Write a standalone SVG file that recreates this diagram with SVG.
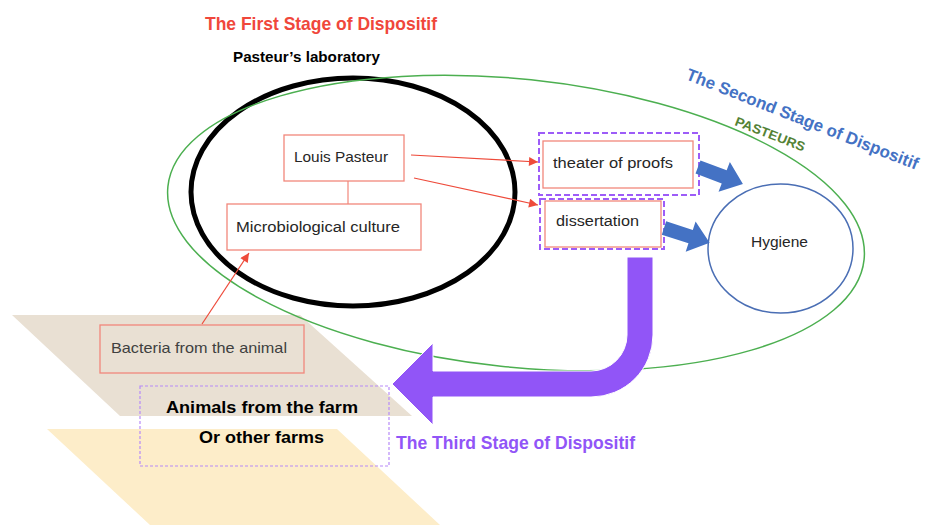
<svg xmlns="http://www.w3.org/2000/svg" width="931" height="525" viewBox="0 0 931 525">
<defs>
<style>
text{font-family:"Liberation Sans",Arial,sans-serif;}
.box{fill:none;stroke:#F2877B;stroke-width:1.3;}
.lbl{font-size:14px;fill:#262626;}
.dash{fill:none;stroke:#9D5CF8;stroke-width:2;stroke-dasharray:6 3;}
.conn{stroke:#EE4B3B;stroke-width:1.2;fill:none;marker-end:url(#ah);}
.blue{fill:#4472C4;}
.bold{font-weight:bold;}
</style>
<marker id="ah" viewBox="0 0 10 10" refX="10" refY="5" markerWidth="11" markerHeight="9" markerUnits="userSpaceOnUse" orient="auto">
<path d="M0,0 L10,5 L0,10 Z" fill="#EE4B3B"/>
</marker>
</defs>
<rect width="931" height="525" fill="#fff"/>

<g id="farm-planes">
<path d="M12,315 L300,315 L412,416 L120,416 Z" fill="#E9E0D3"/>
<path d="M47,429 L337,429 L440,525 L150,525 Z" fill="#FDEDC9"/>
</g>

<g id="lab">
<ellipse cx="353" cy="192" rx="162" ry="114" fill="none" stroke="#000" stroke-width="5"/>
</g>
<g id="pasteurs">
<ellipse cx="516" cy="223" rx="350" ry="144" fill="none" stroke="#4CAF50" stroke-width="1.5" transform="rotate(6 516 223)"/>
</g>

<g id="title-first">
<text x="205" y="30" font-size="19" class="bold" fill="#F0473B" textLength="232" lengthAdjust="spacingAndGlyphs">The First Stage of Dispositif</text>
<text x="233" y="62" font-size="15" class="bold" fill="#000" textLength="147" lengthAdjust="spacingAndGlyphs">Pasteur’s laboratory</text>
</g>
<g id="title-second">
<text x="685" y="79" font-size="17" class="bold" fill="#4472C4" transform="rotate(21.5 685 79)" textLength="248" lengthAdjust="spacingAndGlyphs">The Second Stage of Dispositif</text>
<text x="734" y="125" font-size="13" class="bold" fill="#548235" transform="rotate(21 734 125)" textLength="74" lengthAdjust="spacingAndGlyphs">PASTEURS</text>
</g>

<g id="louis-pasteur">
<rect class="box" x="284" y="135" width="120" height="46"/>
<text class="lbl" x="294" y="162" textLength="94" lengthAdjust="spacingAndGlyphs">Louis Pasteur</text>
</g>
<g id="microbiological-culture">
<rect class="box" x="227" y="204" width="194" height="46"/>
<text class="lbl" x="236" y="232" textLength="164" lengthAdjust="spacingAndGlyphs">Microbiological culture</text>
</g>
<g id="theater-of-proofs">
<rect class="dash" x="539" y="133" width="160" height="62"/>
<rect class="box" x="543" y="141" width="150" height="47"/>
<text class="lbl" x="553" y="168" textLength="120" lengthAdjust="spacingAndGlyphs">theater of proofs</text>
</g>
<g id="dissertation">
<rect class="dash" x="540" y="199" width="124" height="50"/>
<rect class="box" x="545" y="201" width="116" height="46"/>
<text class="lbl" x="556" y="226" textLength="83" lengthAdjust="spacingAndGlyphs">dissertation</text>
</g>
<g id="hygiene">
<ellipse cx="780.5" cy="248.5" rx="72.5" ry="64.5" fill="#fff" stroke="#4A6EB4" stroke-width="1.5"/>
<text class="lbl" x="751" y="247" font-size="15" textLength="57" lengthAdjust="spacingAndGlyphs">Hygiene</text>
</g>
<g id="bacteria">
<rect class="box" x="100" y="325" width="204" height="48"/>
<text x="111" y="353" font-size="15" fill="#404040" textLength="176" lengthAdjust="spacingAndGlyphs">Bacteria from the animal</text>
</g>
<g id="farm">
<rect x="140" y="386" width="249" height="80" fill="none" stroke="#B78AF8" stroke-width="1.2" stroke-dasharray="3 2"/>
<text x="166" y="413" font-size="17" class="bold" fill="#000" textLength="192" lengthAdjust="spacingAndGlyphs">Animals from the farm</text>
<text x="199" y="443" font-size="17" class="bold" fill="#000" textLength="125" lengthAdjust="spacingAndGlyphs">Or other farms</text>
</g>
<g id="title-third">
<text x="396" y="449" font-size="19" class="bold" fill="#9155F7" textLength="239" lengthAdjust="spacingAndGlyphs">The Third Stage of Dispositif</text>
</g>

<g id="connectors">
<line x1="348" y1="181" x2="348" y2="204" stroke="#F2877B" stroke-width="1.2"/>
<line class="conn" x1="411" y1="155" x2="538" y2="162"/>
<line class="conn" x1="414" y1="178" x2="538" y2="205"/>
<line class="conn" x1="202" y1="324" x2="249" y2="253"/>
<polygon class="blue" transform="translate(698 167) rotate(20.7)" points="0,-7 28,-7 28,-16 48,0 28,16 28,7 0,7"/>
<polygon class="blue" transform="translate(664 228) rotate(18)" points="0,-7 28,-7 28,-16 48,0 28,16 28,7 0,7"/>
<path d="M627,257 H653 V335 A62,62 0 0 1 591,397 H433 V425 L392,384 L433,343 V371 H591 A36,36 0 0 0 627,335 Z" fill="#9155F7" stroke="#fff" stroke-width="1"/>
</g>
</svg>
